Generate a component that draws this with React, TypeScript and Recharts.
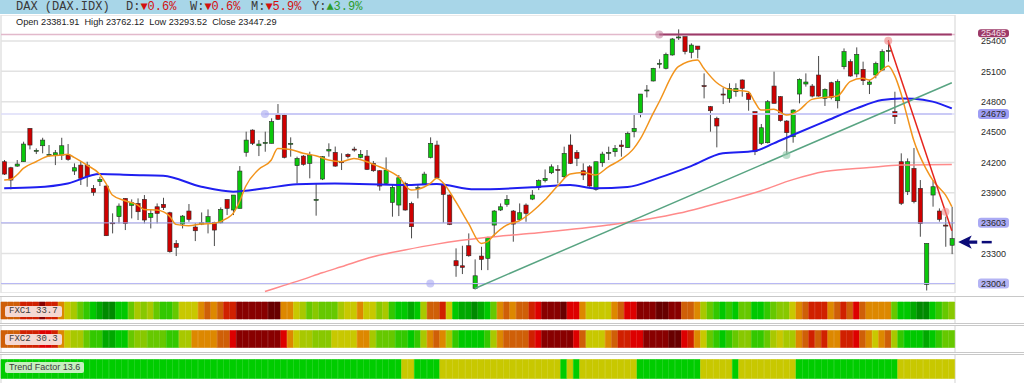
import React from 'react';
import { ComposedChart, BarChart, Bar, Line, XAxis, YAxis, CartesianGrid, ReferenceLine, ReferenceDot, Cell } from 'recharts';

// daily OHLC, oldest first
const opens = [24207,24148,24164,24207,24537,24316,24365,24273,24273,24273, 24273,24115,24174,24174,23944,24010,23967,23604,23664,23845, 23776,23795,23835,23657,23762,23786,23703,23400,23591,23720, 23562,23591,23604,23608,23604,23835,23730,23746,24300,24520, 24365,24389,24389,24678,24669,24385,24168,24263,24191,23828, 24036,24313,24300,24207,24280,24332,24250,24263,24191,24118, 23993,23805,23779,23993,23795,23944,23987,24250,24372,23977, 23878,23229,23179,23377,22955,23275,23252,23581,23730,23786, 23720,23637,23779,23838,23954,24020,24098,24131,24059,24372, 24300,24118,24157,23934,24197,24290,24306,24372,24346,24504, 24692,24909,25005,25175,25130,25262,25436,25443,25288,25350, 24959,24751,24636,24876,24833,24899,25015,24883,24702,24388, 24395,24955,24850,24609,24454,24876,24975,24955,25064,24833, 24988,24810,25146,25196,25074,25120,24972,25064,25113,25304, 24702,24207,23911,24141,23944,22995,23878,23720,23581,23382];
const highs = [24224,24157,24224,24405,24537,24339,24444,24372,24323,24444, 24382,24191,24207,24207,23977,24059,23977,23697,23795,23845, 23835,23845,23878,23730,23795,23851,23713,23433,23680,23789, 23598,23706,23736,23614,23756,23835,23878,24164,24504,24527, 24421,24504,24636,24777,24685,24448,24257,24273,24306,23993, 24263,24389,24357,24290,24290,24355,24323,24323,24214,24125, 24250,23977,24076,24010,23812,23977,24108,24448,24415,23993, 23884,23351,23377,23499,23242,23367,23466,23730,23795,23878, 23730,23795,23795,23927,24033,24131,24181,24174,24356,24477, 24323,24191,24174,24207,24306,24356,24372,24421,24504,24669, 24876,24965,25135,25219,25285,25430,25515,25443,25377,25350, 25080,24758,24652,24939,24982,24982,25021,24899,24702,24580, 24817,25097,24856,24619,24725,25031,25080,24975,25252,24932, 24998,25021,25327,25219,25337,25196,25015,25196,25318,25410, 24899,24290,24240,24343,24026,23400,24026,23746,23664,23762];
const lows = [24076,23934,24157,24207,24329,24283,24290,24257,24174,24224, 24217,24076,23977,23960,23871,23967,23473,23499,23598,23532, 23647,23631,23598,23548,23598,23730,23308,23275,23548,23614, 23423,23581,23499,23374,23598,23680,23680,23746,24257,24372, 24263,24306,24389,24619,24240,24257,23993,24168,24043,23674, 24026,24257,24157,24125,24240,24306,24240,24125,24108,23921, 23987,23664,23670,23723,23450,23845,23977,24240,24043,23604, 23581,23070,23097,23268,22945,23136,23136,23466,23720,23762, 23417,23631,23614,23828,23927,24003,24085,23993,24043,24184, 24164,24026,23960,23921,24157,24224,24257,24257,24346,24448, 24646,24843,25000,25130,25120,25255,25410,25268,25229,25229, 24833,24504,24349,24777,24790,24850,24850,24711,24273,24372, 24388,24784,24603,24273,24395,24784,24949,24843,24850,24758, 24823,24734,25120,25047,25041,24965,24876,25031,25107,25196, 24580,23779,23878,23796,23466,22935,23763,23615,23367,23294];
const closes = [24085,24026,24184,24382,24372,24320,24421,24280,24296,24365, 24230,24148,24043,24059,23904,24033,23476,23600,23769,23598, 23802,23713,23631,23697,23697,23753,23318,23361,23670,23637, 23525,23604,23664,23532,23736,23746,23878,24115,24421,24389, 24382,24398,24603,24626,24250,24389,24240,24181,24273,23835, 24257,24329,24164,24200,24257,24323,24280,24131,24118,23967, 24125,23954,24049,23730,23565,23951,24085,24389,24049,23884, 23588,23179,23163,23278,23080,23242,23456,23720,23762,23835, 23591,23703,23697,23878,24020,24043,24157,24128,24290,24191, 24240,24076,23967,24207,24283,24300,24339,24356,24487,24537, 24876,24916,25130,25180,25268,25420,25440,25295,25360,25318, 24956,24711,24560,24870,24932,24932,24932,24823,24306,24543, 24800,24784,24613,24494,24718,25021,24995,24856,24856,24922, 24843,24998,25295,25054,25268,25008,24995,25179,25295,25307, 24652,23796,24207,23812,23598,23400,23960,23637,23571,23447];

// moving averages: [candle index, value]
const maFast: [number, number][] = [[0,24026],[1,24033],[2,24076],[3,24141],[5,24207],[7,24263],[9,24273],[10,24280],[11,24250],[13,24174],[15,24085],[16,23993],[17,23878],[19,23822],[21,23779],[22,23736],[24,23730],[26,23670],[27,23588],[29,23575],[31,23591],[33,23598],[35,23647],[36,23697],[37,23812],[38,23967],[40,24131],[42,24224],[43,24339],[45,24329],[47,24290],[49,24267],[51,24224],[53,24207],[55,24240],[57,24207],[59,24157],[60,24131],[62,24059],[64,23927],[65,23934],[67,23993],[68,24043],[69,24000],[71,23812],[73,23598],[75,23400],[76,23417],[77,23482],[79,23581],[81,23624],[83,23713],[85,23828],[87,23967],[89,24085],[91,24100],[93,24076],[95,24157],[97,24230],[99,24339],[100,24430],[102,24680],[103,24800],[106,25146],[109,25212],[110,25130],[112,24990],[114,24922],[117,24899],[118,24800],[119,24718],[121,24725],[123,24669],[125,24718],[127,24823],[129,24843],[131,24856],[133,24998],[135,25031],[136,25015],[138,25113],[139,25153],[140,25060],[141,24883],[142,24650],[143,24421],[145,24132],[146,24026],[147,23950],[148,23880],[149,23763]];
const maMid: [number, number][] = [[0,23944],[5,23954],[10,23993],[15,24085],[20,24076],[25,24069],[31,23960],[36,23911],[41,23944],[46,23985],[52,23993],[63,23977],[68,23987],[74,23934],[83,23954],[89,23977],[93,23944],[98,23958],[103,24050],[108,24164],[113,24290],[118,24313],[121,24389],[124,24471],[129,24603],[134,24734],[138,24817],[141,24833],[143,24830],[146,24801],[149,24734]];
const maSlow: [number, number][] = [[41,22925],[44,22985],[47,23045],[50,23110],[53,23169],[58,23268],[63,23335],[68,23393],[76,23460],[84,23505],[95,23581],[106,23697],[110,23760],[114,23828],[119,23920],[124,24030],[129,24110],[136,24150],[141,24174],[149,24180]];

// heat levels, 0 = dark green ... 13 = very dark red
const fxc1 = [9,9,9,10,10,10,12,10,10,8, 7,6,4,3,2,1,0,0,2,2, 4,6,5,6,4,3,3,4,7,7, 7,8,9,8,9,10,10,12,12,12, 12,12,13,13,8,8,7,6,4,5, 4,4,4,6,7,7,8,7,7,5, 6,3,2,2,1,2,6,9,9,10, 7,2,1,1,0,1,2,4,8,9, 8,9,9,10,11,12,12,12,13,11, 11,8,7,7,7,7,8,9,11,11, 12,12,12,13,13,12,12,9,9,8, 6,4,3,2,3,2,4,4,2,2, 3,4,5,5,7,8,9,10,10,10, 8,9,10,9,11,9,8,8,8,8, 4,2,2,1,0,0,2,3,4,5];
const fxc2 = [9,9,9,10,10,10,11,11,10,8, 7,6,6,4,3,3,1,1,2,2, 4,5,5,4,4,4,3,3,6,6, 8,8,8,8,9,9,11,12,12,12, 12,12,12,12,11,8,7,6,6,5, 5,5,7,7,7,7,8,8,6,4, 4,4,3,3,2,3,6,8,9,8, 6,3,2,2,2,2,3,6,8,9, 9,9,9,10,11,12,12,12,12,12, 11,9,7,7,7,8,9,10,10,11, 11,12,12,12,12,13,13,11,10,8, 7,4,3,2,3,4,5,5,3,3, 4,6,7,6,6,8,9,10,9,10, 8,8,10,10,11,9,8,7,8,9, 6,3,2,2,2,1,2,3,4,4];
// 1 = green, 0 = yellow
const trendFactor = [1,1,1,1,1,1,1,1,1,1, 1,1,1,1,1,1,1,1,1,1, 1,1,1,1,1,1,1,1,1,1, 1,1,1,1,1,1,1,1,1,1, 1,1,1,1,1,1,1,1,1,1, 1,1,1,1,1,1,1,1,1,1, 1,1,1,0,0,1,1,1,1,0, 0,0,0,0,0,0,0,0,0,0, 0,0,0,0,0,0,0,0,1,0, 1,0,0,0,0,0,0,0,0,0, 1,1,1,1,1,1,1,1,1,1, 0,0,0,0,0,1,0,0,0,0, 0,0,0,0,0,1,1,1,1,1, 1,1,1,1,1,1,1,1,1,1, 1,0,0,0,0,0,0,0,0,0];

const yTicks = [25400, 25100, 24800, 24500, 24200, 23900, 23600, 23300, 23000];
const coveredTicks = [23600, 23000];

const heat = ['#008a00','#00a800','#00c800','#33c800','#66c800','#88c800','#a8c800','#c8c800','#dd8800','#cf5f08','#d02000','#dd0000','#880000','#680000'];
const trendColors = ['#c8c800', '#00cc00'];

const fastMap = new Map(maFast);
const midMap = new Map(maMid);
const slowMap = new Map(maSlow);

const data = opens.map((o, i) => ({
  i,
  o,
  h: highs[i],
  l: lows[i],
  c: closes[i],
  fast: fastMap.get(i) ?? null,
  mid: midMap.get(i) ?? null,
  slow: slowMap.get(i) ?? null,
}));

const gridTicks = data.filter(d => (d.i - 2) % 7 === 0).map(d => d.i);
const last = data.length - 1;

const Candle = (props: any) => {
  const { x, y, width, height, payload } = props;
  const top0 = Math.min(y, y + height);
  const hh = Math.abs(height);
  const { o, h, l, c } = payload;
  const k = hh / Math.max(h - l, 1e-6);
  const bTop = top0 + (h - Math.max(o, c)) * k;
  const bBot = top0 + (h - Math.min(o, c)) * k;
  const cx = x + width / 2;
  const up = c >= o;
  return (
    <g>
      <line x1={cx} x2={cx} y1={top0} y2={top0 + hh} stroke="#4a4a4a" strokeWidth={1} />
      <rect x={x + 0.4} y={bTop} width={width - 0.8} height={Math.max(bBot - bTop, 1)} fill={up ? '#0bc80b' : '#cf0000'} stroke="#2a2a2a" strokeWidth={0.6} />
    </g>
  );
};

const YTick = ({ x, y, payload }: any) => {
  if (coveredTicks.includes(payload.value)) return null;
  return (
    <text x={x + 30.5} y={y + 3.3} textAnchor="middle" fontSize={9} fontFamily="Liberation Sans, Arial" fill="#2a2a2a">
      {payload.value}
    </text>
  );
};

// price tag drawn in the axis gutter at the end of a level line
const badge = (value: string, fill: string, color: string, h = 10, dy = 0) => (p: any) => {
  const vb = p.viewBox || {};
  const bx = vb.x + vb.width + 23;
  const by = vb.y + dy;
  return (
    <g>
      <rect x={bx} y={by - h / 2} width={31} height={h} rx={3} fill={fill} />
      <text x={bx + 15.5} y={by + 3.2} textAnchor="middle" fontSize={9} fontFamily="Liberation Sans, Arial" fill={color}>
        {value}
      </text>
    </g>
  );
};

const Arrow = (p: any) => {
  const { cx, cy } = p;
  const t = cx + 6.4;
  return (
    <g fill="#0b0b78">
      <path d={`M${t},${cy} L${t + 13.5},${cy - 6.7} L${t + 11},${cy - 1.7} L${t + 19},${cy - 1.7} L${t + 19},${cy + 1.7} L${t + 11},${cy + 1.7} L${t + 13.5},${cy + 6.7} Z`} />
      <rect x={t + 23.5} y={cy - 1.2} width={10} height={2.5} />
    </g>
  );
};

const Strip = ({ levels, colors, top, height, lo, hi }: any) => {
  const rows = levels.map((v: number, i: number) => ({ i, v, band: [lo, hi] }));
  return (
    <div style={{ position: 'absolute', left: 0, top }}>
      <BarChart width={1024} height={height} data={rows} margin={{ top: 0, right: 69, left: 1, bottom: 0 }} barCategoryGap={0}>
        <CartesianGrid stroke="#e2e2e2" strokeWidth={1.5} horizontal={false} />
        <XAxis dataKey="i" ticks={gridTicks} interval={0} tick={false} tickLine={false} axisLine={false} height={0} />
        <YAxis hide domain={[0, height]} allowDataOverflow />
        <Bar dataKey="band" isAnimationActive={false}>
          {rows.map((r: any) => (
            <Cell key={r.i} fill={colors[r.v]} stroke={colors[r.v]} strokeWidth={0.6} />
          ))}
        </Bar>
      </BarChart>
    </div>
  );
};

const hline = (top: number) => (
  <div style={{ position: 'absolute', left: 0, top, width: 1024, height: 1, background: '#c8c8c8' }} />
);

const stripLabel: React.CSSProperties = {
  position: 'absolute',
  left: 5,
  height: 11,
  lineHeight: '11px',
  fontSize: 9,
  padding: '0 4px',
  borderRadius: 2,
  color: '#3a3a3a',
};

export default function App() {
  const mono = 'Liberation Mono, Courier New, monospace';
  return (
    <div style={{ position: 'absolute', left: 0, top: 0, width: 1024, height: 383, background: '#fff', fontFamily: 'Liberation Sans, Arial, sans-serif', overflow: 'hidden' }}>
      <div style={{ position: 'absolute', left: 0, top: 15 }}>
        <ComposedChart width={1024} height={278} data={data} margin={{ top: 0, right: 0, left: 1, bottom: 0 }}>
          <CartesianGrid stroke="#e2e2e2" strokeWidth={1.5} />
          <XAxis dataKey="i" ticks={gridTicks} interval={0} tick={false} tickLine={false} axisLine={false} height={0} />
          <YAxis orientation="right" width={69} domain={[22910, 25657]} allowDataOverflow ticks={yTicks} interval={0} tick={<YTick />} tickLine={false} axisLine={false} tickSize={6} tickMargin={2} />

          <ReferenceLine y={25465} stroke="#e2b9cb" strokeWidth={1.5} label={badge('25465', '#9c3a68', '#f6e0ea', 8, -1.2)} />
          <ReferenceLine segment={[{ x: 103, y: 25465 }, { x: last, y: 25465 }]} stroke="#9c3a68" strokeWidth={2} />
          <ReferenceLine y={24679} stroke="#dcdcf8" strokeWidth={1.5} label={badge('24679', '#9d9df4', '#2a2a2a')} />
          <ReferenceLine segment={[{ x: 41, y: 24679 }, { x: last, y: 24679 }]} stroke="#c0c0f4" strokeWidth={1.5} />
          <ReferenceLine y={23603} stroke="#a8a8f2" strokeWidth={1} label={badge('23603', '#aaaaf4', '#2a2a2a')} />
          <ReferenceLine y={23004} stroke="#b8b8f4" strokeWidth={1} label={badge('23004', '#b4b4f4', '#2a2a2a')} />

          <Line dataKey="slow" type="monotone" connectNulls dot={false} stroke="#ff8a8a" strokeWidth={1.5} isAnimationActive={false} />
          <Line dataKey="mid" type="monotone" connectNulls dot={false} stroke="#1f1ff0" strokeWidth={2} isAnimationActive={false} />
          <Line dataKey="fast" type="monotone" connectNulls dot={false} stroke="#f2941c" strokeWidth={1.5} isAnimationActive={false} />

          <ReferenceLine segment={[{ x: 74, y: 22955 }, { x: last, y: 24988 }]} stroke="#58a482" strokeWidth={1.5} ifOverflow="visible" />
          <ReferenceLine segment={[{ x: 139, y: 25403 }, { x: last, y: 23525 }]} stroke="#e6251e" strokeWidth={1.5} ifOverflow="visible" />

          <Bar dataKey={(d: any) => [d.l, d.h]} barSize={5} shape={<Candle />} isAnimationActive={false} />

          <ReferenceDot x={103} y={25465} r={4} fill="#c07898" fillOpacity={0.55} stroke="none" />
          <ReferenceDot x={41} y={24679} r={4} fill="#a8a8f0" fillOpacity={0.6} stroke="none" />
          <ReferenceDot x={67} y={23004} r={4} fill="#a8a8f0" fillOpacity={0.6} stroke="none" />
          <ReferenceDot x={123} y={24273} r={4} fill="#90c8a8" fillOpacity={0.6} stroke="none" />
          <ReferenceDot x={139} y={25403} r={4} fill="#f08080" fillOpacity={0.6} stroke="none" />
          <ReferenceDot x={148} y={23713} r={4} fill="#f09090" fillOpacity={0.6} stroke="none" />
          <ReferenceDot x={last} y={23413} ifOverflow="visible" shape={Arrow} />
        </ComposedChart>
      </div>

      <div style={{ position: 'absolute', left: 0, top: 0, width: 1024, height: 14, background: '#a8d6e8' }} />
      <div style={{ position: 'absolute', top: 0, height: 14, lineHeight: '14px', fontSize: 12, fontFamily: mono, color: '#3a3a3a', whiteSpace: 'pre' }}>
        <span style={{ position: 'absolute', left: 16 }}>DAX (DAX.IDX)</span>
        <span style={{ position: 'absolute', left: 126 }}>D:<span style={{ color: '#d41010' }}>▼0.6%</span></span>
        <span style={{ position: 'absolute', left: 190 }}>W:<span style={{ color: '#d41010' }}>▼0.6%</span></span>
        <span style={{ position: 'absolute', left: 251 }}>M:<span style={{ color: '#d41010' }}>▼5.9%</span></span>
        <span style={{ position: 'absolute', left: 312 }}>Y:<span style={{ color: '#2c9c2c' }}>▲3.9%</span></span>
      </div>
      <div style={{ position: 'absolute', left: 16, top: 17, fontSize: 9.2, lineHeight: '11px', color: '#222', whiteSpace: 'pre' }}>
        Open 23381.91  High 23762.12  Low 23293.52  Close 23447.29
      </div>

      {hline(296)}
      <Strip levels={fxc1} colors={heat} top={297} height={26} lo={4} hi={21} />
      {hline(323)}
      {hline(325)}
      <Strip levels={fxc2} colors={heat} top={326} height={26} lo={4.5} hi={21.5} />
      {hline(352)}
      {hline(354)}
      <Strip levels={trendFactor} colors={trendColors} top={355} height={28} lo={4.5} hi={23.5} />

      <div style={{ ...stripLabel, top: 306, background: '#f5d8d2', fontFamily: mono }}>FXC1 33.7</div>
      <div style={{ ...stripLabel, top: 334, background: '#f5d8d2', fontFamily: mono }}>FXC2 30.3</div>
      <div style={{ ...stripLabel, top: 362, background: '#c6f0c0' }}>Trend Factor 13.6</div>
    </div>
  );
}
